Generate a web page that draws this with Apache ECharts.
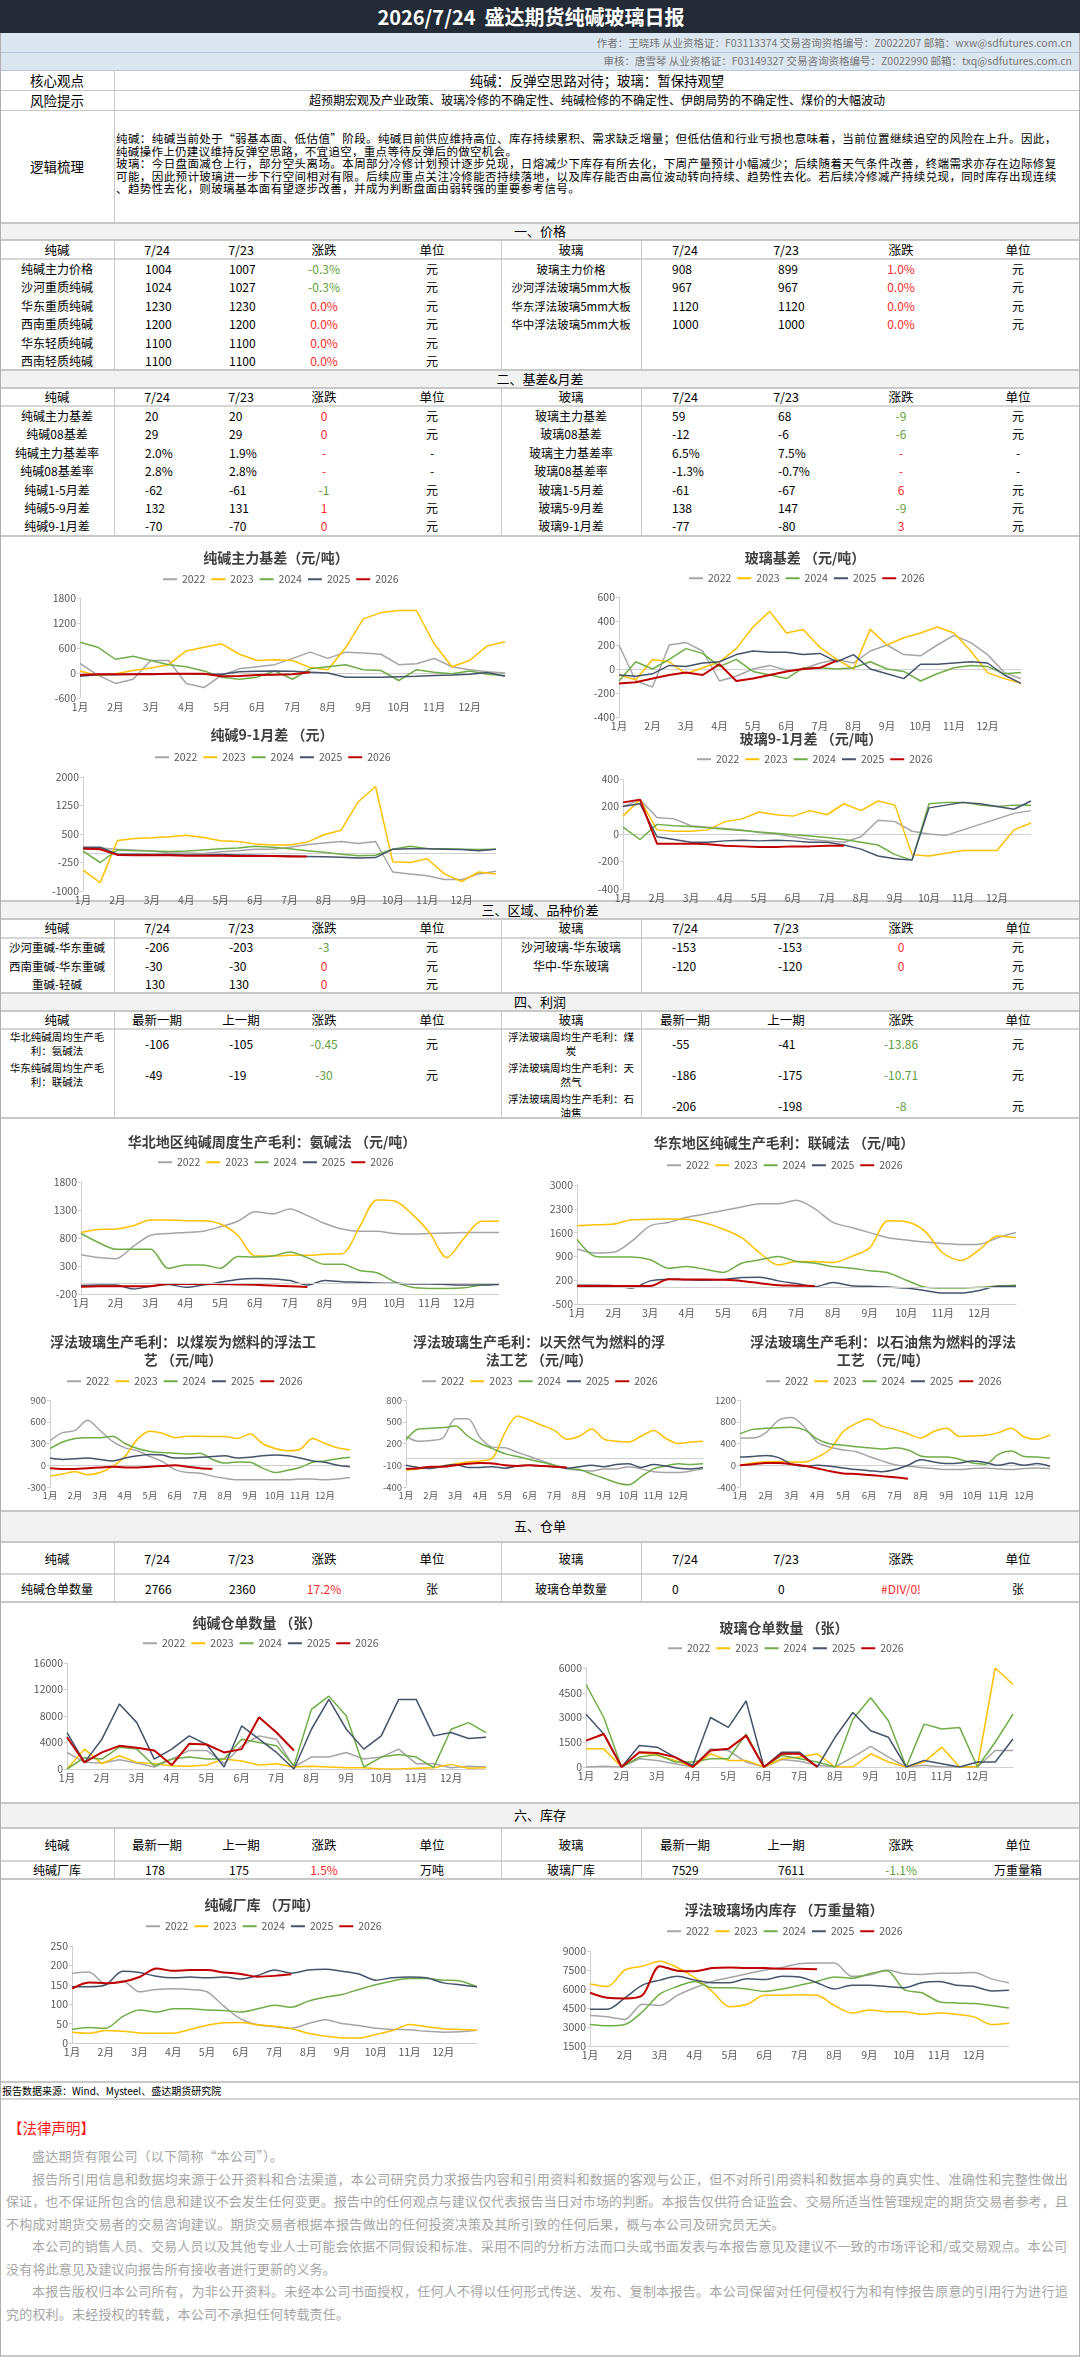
<!DOCTYPE html>
<html>
<head>
<meta charset="utf-8">
<script src="https://cdn.jsdelivr.net/npm/echarts@6/dist/echarts.min.js"></script>
<style>
body { margin: 0; background: #fff; font-family: "Noto Sans CJK SC", sans-serif; }
#page { position: relative; width: 1080px; height: 2374px; overflow: hidden; background: #fff; }
#chart { position: absolute; left: 0; top: 0; width: 1080px; height: 2374px; z-index: 5; }
</style>
</head>
<body>
<div id="page"><div id="chart"></div></div>
<script>
// 表格数据
var headL = ['纯碱', '7/24', '7/23', '涨跌', '单位'];
var headR = ['玻璃', '7/24', '7/23', '涨跌', '单位'];
var headL2 = ['纯碱', '最新一期', '上一期', '涨跌', '单位'];
var headR2 = ['玻璃', '最新一期', '上一期', '涨跌', '单位'];

var priceRowsL = [
  ['纯碱主力价格', '1004', '1007', '-0.3%', '元'],
  ['沙河重质纯碱', '1024', '1027', '-0.3%', '元'],
  ['华东重质纯碱', '1230', '1230', '0.0%', '元'],
  ['西南重质纯碱', '1200', '1200', '0.0%', '元'],
  ['华东轻质纯碱', '1100', '1100', '0.0%', '元'],
  ['西南轻质纯碱', '1100', '1100', '0.0%', '元']
];
var priceRowsR = [
  ['玻璃主力价格', '908', '899', '1.0%', '元'],
  ['沙河浮法玻璃5mm大板', '967', '967', '0.0%', '元'],
  ['华东浮法玻璃5mm大板', '1120', '1120', '0.0%', '元'],
  ['华中浮法玻璃5mm大板', '1000', '1000', '0.0%', '元']
];
var basisRowsL = [
  ['纯碱主力基差', '20', '20', '0', '元'],
  ['纯碱08基差', '29', '29', '0', '元'],
  ['纯碱主力基差率', '2.0%', '1.9%', '-', '-'],
  ['纯碱08基差率', '2.8%', '2.8%', '-', '-'],
  ['纯碱1-5月差', '-62', '-61', '-1', '元'],
  ['纯碱5-9月差', '132', '131', '1', '元'],
  ['纯碱9-1月差', '-70', '-70', '0', '元']
];
var basisRowsR = [
  ['玻璃主力基差', '59', '68', '-9', '元'],
  ['玻璃08基差', '-12', '-6', '-6', '元'],
  ['玻璃主力基差率', '6.5%', '7.5%', '-', '-'],
  ['玻璃08基差率', '-1.3%', '-0.7%', '-', '-'],
  ['玻璃1-5月差', '-61', '-67', '6', '元'],
  ['玻璃5-9月差', '138', '147', '-9', '元'],
  ['玻璃9-1月差', '-77', '-80', '3', '元']
];
var spreadRowsL = [
  ['沙河重碱-华东重碱', '-206', '-203', '-3', '元'],
  ['西南重碱-华东重碱', '-30', '-30', '0', '元'],
  ['重碱-轻碱', '130', '130', '0', '元']
];
var spreadRowsR = [
  ['沙河玻璃-华东玻璃', '-153', '-153', '0', '元'],
  ['华中-华东玻璃', '-120', '-120', '0', '元'],
  ['', '', '', '', '元']
];
var profitRowsL = [
  ['华北纯碱周均生产毛利：氨碱法', '-106', '-105', '-0.45', '元'],
  ['华东纯碱周均生产毛利：联碱法', '-49', '-19', '-30', '元']
];
var profitRowsR = [
  ['浮法玻璃周均生产毛利：煤炭', '-55', '-41', '-13.86', '元'],
  ['浮法玻璃周均生产毛利：天然气', '-186', '-175', '-10.71', '元'],
  ['浮法玻璃周均生产毛利：石油焦', '-206', '-198', '-8', '元']
];
var whRowsL = [['纯碱仓单数量', '2766', '2360', '17.2%', '张']];
var whRowsR = [['玻璃仓单数量', '0', '0', '#DIV/0!', '张']];
var invRowsL = [['纯碱厂库', '178', '175', '1.5%', '万吨']];
var invRowsR = [['玻璃厂库', '7529', '7611', '-1.1%', '万重量箱']];

// 图表数据（半月取点）
var months = ['1月','','2月','','3月','','4月','','5月','','6月','','7月','','8月','','9月','','10月','','11月','','12月','',''];
var years = ['2022', '2023', '2024', '2025', '2026'];
var yearColors = ['#a5a5a5', '#ffc000', '#70ad47', '#44546a', '#c00000'];

var sodaBasis22 = [230,-50,-250,-150,300,300,-250,-350,-50,100,150,200,350,500,350,500,480,450,200,220,350,150,80,30,0];
var sodaBasis23 = [50,-60,-20,60,120,200,530,620,700,450,300,320,300,130,80,610,1300,1450,1500,1500,700,150,300,650,750];
var sodaBasis24 = [740,620,330,400,300,200,150,50,-100,-150,-100,50,-150,100,150,200,80,60,-180,80,20,-20,50,-30,-60];
var sodaBasis25 = [-80,-40,-40,-30,-20,-20,-20,-30,-30,30,40,50,40,20,0,-100,-100,-100,-90,-80,-60,-50,-30,10,-80];
var sodaBasis26 = [-50,-30,-30,-30,-30,-20,-20,-20,-80,-70,-50,-40,-30,20];

var glassBasis22 = [200,-100,-150,200,220,150,-100,-60,0,30,-10,0,50,80,50,150,200,120,110,200,280,220,120,-30,-80];
var glassBasis23 = [-50,-90,80,60,-40,10,60,170,350,480,300,330,180,80,0,330,200,260,300,350,300,150,-30,-80,-120];
var glassBasis24 = [-100,60,0,80,170,130,20,80,-20,-50,-80,10,10,0,10,60,0,-20,-100,-40,10,30,20,-40,-30];
var glassBasis25 = [-50,-60,-40,30,20,50,60,120,150,140,140,120,130,60,120,0,-40,-80,40,40,50,60,50,-50,-120];
var glassBasis26 = [-120,-110,-80,-50,-30,-50,40,-100,-80,-50,-20,0,10,70];

var sodaSpread22 = [100,130,100,80,50,0,0,-10,30,60,100,100,150,220,260,300,250,300,-500,-550,-600,-700,-700,-550,-480];
var sodaSpread23 = [-450,-780,330,380,400,430,470,410,320,300,240,210,210,280,480,600,1350,1750,-230,-250,-150,-550,-750,-500,-550];
var sodaSpread24 = [50,-250,80,60,50,40,50,80,110,130,180,150,110,60,20,-30,-70,-60,100,180,120,110,100,90,100];
var sodaSpread25 = [150,150,-30,-30,-40,-40,-50,-50,-40,-50,-60,-70,-80,-90,-100,-110,-130,-120,100,110,110,100,90,60,100];
var sodaSpread26 = [120,100,-50,-60,-60,-60,-70,-70,-70,-80,-80,-80,-90,-90];

var glassSpread22 = [200,250,120,110,60,50,40,30,10,0,-20,-40,-50,-60,-20,100,90,20,0,-10,30,70,110,150,170];
var glassSpread23 = [130,250,30,20,20,30,90,110,160,140,130,170,140,220,170,240,210,-150,-160,-140,-120,-120,-120,30,80];
var glassSpread24 = [50,-40,70,60,55,45,35,25,15,5,-5,-15,-25,-40,-60,-80,-150,-190,220,230,230,210,200,210,210];
var glassSpread25 = [200,220,-20,-40,-60,-60,-50,-45,-50,-45,-50,-60,-60,-80,-110,-160,-180,-190,190,210,230,220,200,180,240];
var glassSpread26 = [230,250,-70,-70,-70,-75,-85,-90,-95,-95,-90,-90,-85,-85];

var profitNorth22 = [500,450,430,650,850,880,900,920,1000,1100,1270,1230,1320,1200,1060,960,920,920,880,870,880,890,900,900,900];
var profitNorth23 = [900,950,960,1020,1120,1120,1110,1110,1050,850,480,480,490,490,510,520,1000,1480,1460,1230,900,450,800,1100,1100];
var profitNorth24 = [880,720,600,600,600,260,320,320,260,470,460,480,550,450,330,330,220,180,20,-80,-100,-100,-90,-40,-20];
var profitNorth25 = [-50,-40,-40,-110,-60,-30,-80,-40,10,60,75,70,40,-40,40,20,10,-5,-10,-20,-20,-30,-40,-40,-30];
var profitNorth26 = [-70,-60,-60,-60,-60,-20,-20,-20,-25,-30,-35,-50,-60,-75];

var profitEast22 = [1120,1000,1020,1350,1800,1900,2050,2150,2250,2350,2450,2450,2550,2300,1900,1750,1600,1450,1380,1320,1280,1250,1260,1450,1600];
var profitEast23 = [1800,1830,1850,1980,1990,2000,1990,1880,1700,1450,1000,650,750,750,720,900,1150,1950,1920,1650,1000,780,1100,1500,1450];
var profitEast24 = [1400,900,880,880,800,550,600,520,430,700,800,900,750,700,600,550,480,420,200,0,-30,-30,-10,30,50];
var profitEast25 = [50,50,40,-30,180,230,210,200,220,280,290,180,100,10,130,40,20,0,-30,-100,-180,-180,-100,20,20];
var profitEast26 = [30,30,30,30,30,230,220,220,210,180,110,50,40,30];

var glassCoal22 = [340,450,480,620,480,330,240,200,120,50,-60,-100,-110,-150,-180,-200,-200,-200,-200,-200,-190,-190,-200,-190,-170];
var glassCoal23 = [-150,-120,-90,-130,-100,-20,120,360,470,440,380,400,400,395,395,370,430,300,230,200,220,370,300,240,210];
var glassCoal24 = [230,320,370,380,380,400,300,230,190,175,165,155,165,80,30,45,40,-40,-100,-70,-30,40,60,90,110];
var glassCoal25 = [100,80,90,100,80,60,100,130,150,140,100,100,110,120,130,100,110,130,140,130,100,60,40,0,-20];
var glassCoal26 = [-40,-50,-50,-40,-30,-20,-30,-30,-20,-10,0,-20,-40,-50];

var glassGas22 = [300,230,240,280,540,540,280,150,140,80,20,-40,-100,-150,-170,-180,-150,-150,-120,-150,-190,-200,-200,-180,-150];
var glassGas23 = [-170,-150,-130,-110,-80,-55,-40,0,350,580,520,450,380,260,300,400,260,230,220,300,380,270,200,220,230];
var glassGas24 = [250,400,410,420,440,300,200,130,60,20,-20,-60,-100,-140,-160,-220,-280,-340,-370,-260,-150,-110,-80,-90,-80];
var glassGas25 = [-100,-130,-145,-110,-90,-130,-130,-120,-140,-110,-100,-110,-120,-140,-120,-100,-120,-90,-80,-130,-90,-110,-140,-150,-130];
var glassGas26 = [-150,-140,-120,-120,-100,-80,-70,-75,-100,-110,-100,-110,-120,-130];

var glassCoke22 = [500,500,600,830,880,700,420,330,280,250,160,80,10,-20,-40,-60,-80,-80,-60,-50,-70,-80,-60,-50,-60];
var glassCoke23 = [0,40,65,70,60,60,150,300,620,770,850,720,660,580,500,620,680,530,540,550,600,680,520,480,560];
var glassCoke24 = [580,660,680,690,700,650,480,390,370,340,320,300,320,280,170,150,150,110,40,20,200,260,160,150,130];
var glassCoke25 = [150,160,180,140,20,-20,0,-20,-50,-80,-100,-120,-80,0,100,60,30,40,80,50,0,40,0,30,-20];
var glassCoke26 = [0,20,40,40,20,-10,-60,-110,-150,-160,-180,-200,-220,-250];

var sodaWr22 = [2500,1000,900,1400,900,300,1500,2800,2800,800,3500,5000,4500,300,1800,1800,2500,1500,1800,3000,800,800,200,400,300];
var sodaWr23 = [0,3000,800,2000,1000,800,500,400,600,1500,1200,600,800,300,400,300,200,200,0,0,100,200,700,100,200];
var sodaWr24 = [0,1700,1500,3300,3000,500,1500,1800,1500,1500,4500,4000,3500,500,9000,11000,8000,300,1800,2200,1800,200,6000,7000,5500];
var sodaWr25 = [5500,1000,4500,9800,7000,1500,3000,5000,3700,300,6500,4500,2500,0,6000,10500,6000,3000,5000,10500,10500,5000,5500,4600,4800];
var sodaWr26 = [4800,1000,2500,3500,3200,2800,600,3800,3700,2500,3000,7800,5500,2800];

var glassWr22 = [0,50,0,500,400,200,0,1100,1000,300,0,450,350,100,0,600,1250,600,0,100,0,0,0,1000,1000];
var glassWr23 = [1100,1100,0,900,700,400,0,800,400,400,0,500,600,800,0,0,800,300,0,300,1200,0,0,6000,5000];
var glassWr24 = [5000,3000,0,600,750,300,300,500,500,2000,0,700,500,300,0,2900,4200,2800,0,2600,2300,2400,0,1500,3200];
var glassWr25 = [3200,2000,0,1300,1200,600,100,3000,2400,4000,0,900,900,0,1800,3300,2200,1800,0,400,200,0,300,300,1700];
var glassWr26 = [1600,2000,0,900,850,600,0,1000,1100,1900,0,800,800,0];

var sodaInv22 = [180,183,152,160,132,138,140,138,132,95,62,47,42,38,50,60,50,45,38,35,34,30,28,29,33];
var sodaInv23 = [28,25,32,30,26,25,25,35,46,52,53,47,43,37,25,18,13,13,22,32,48,42,37,35,33];
var sodaInv24 = [35,40,38,68,85,80,88,88,85,84,80,88,97,92,108,118,125,138,150,160,166,166,162,160,145];
var sodaInv25 = [145,145,150,185,182,172,168,170,168,170,165,174,188,180,188,190,185,178,162,168,170,168,155,150,145];
var sodaInv26 = [140,156,154,158,170,192,186,188,188,182,178,171,173,177];

var glassInv22 = [3900,3800,3600,4800,4700,5500,6100,6600,6900,7200,7500,7700,8000,8050,8050,7000,7100,7500,7200,7150,7250,7250,7300,6800,6500];
var glassInv23 = [6400,6200,7500,7800,8200,7700,6900,5800,4600,4800,5500,5500,5550,5500,4700,4100,4350,4200,4200,4000,4100,4000,3800,3200,3300];
var glassInv24 = [3200,3100,3200,4200,5600,6200,6600,6100,6100,6000,5800,6000,6300,6600,6950,6850,7200,7450,5950,5700,5000,4900,4850,4700,4500];
var glassInv25 = [4400,4400,5300,6300,6700,7000,6700,6500,6500,6800,6750,7000,6950,6500,6000,6300,6300,6200,6100,6500,6600,6300,6200,5850,5900];
var glassInv26 = [5700,5300,5250,5500,7800,7450,7400,7650,7700,7650,7650,7600,7600,7550];

var page = document.getElementById('page');

function put(x, y, w, h, css, html) {
  var d = document.createElement('div');
  d.style.cssText = 'position:absolute;left:' + x + 'px;top:' + y + 'px;' + (w != null ? 'width:' + w + 'px;' : '') + 'height:' + h + 'px;' + (css || '');
  if (html != null) d.innerHTML = html;
  page.appendChild(d);
  return d;
}
function hline(y, x1, x2, t, c) { put(x1, y, x2 - x1, t || 1, 'background:' + (c || '#c8c8c8')); }
function vline(x, y1, y2, t, c) { put(x, y1, t || 1, y2 - y1, 'background:' + (c || '#c8c8c8')); }
function cell(x, cy, w, txt, align, color, size) {
  put(x, cy - 10, w, 20, 'line-height:20px;white-space:nowrap;text-align:' + align + ';color:' + (color || '#000') + ';font-size:' + (size || 12) + 'px;', txt);
}
function chgColor(t) { return /^-\d/.test(t) ? '#5f9e3c' : '#ff2b2b'; }

var centersL = [57, 157, 241, 324, 432];
var centersR = [571, 685, 786, 901, 1018];
var leftsL = [145, 229];
var leftsR = [672, 778];

function section(y1, y2, title) {
  put(0, y1, 1080, y2 - y1, 'background:#f2f2f2');
  hline(y1, 0, 1080, 2, '#c8c8c8');
  hline(y2 - 1, 0, 1080, 2, '#c8c8c8');
  cell(0, (y1 + y2) / 2, 1080, title, 'center', '#000', 13);
}
function header(cy, hl, hr, yBottom) {
  for (var i = 0; i < 5; i++) {
    cell(centersL[i] - 60, cy, 120, hl[i], 'center', '#000', 12.5);
    cell(centersR[i] - 60, cy, 120, hr[i], 'center', '#000', 12.5);
  }
  hline(yBottom, 0, 1080, 2, '#d6d6d6');
}
function rows(list, side, cy0, step, labelSize, twoLine) {
  var c = side == 'L' ? centersL : centersR;
  var l = side == 'L' ? leftsL : leftsR;
  var lw = side == 'L' ? 108 : 132;
  list.forEach(function (r, i) {
    var cy = cy0 + step * i;
    if (twoLine) {
      put(c[0] - lw / 2, cy - 15, lw, 30, 'font-size:' + labelSize + 'px;line-height:14px;display:flex;align-items:center;justify-content:center;text-align:center;', r[0]);
    } else {
      cell(c[0] - 70, cy, 140, r[0], 'center', '#000', labelSize || 12);
    }
    cell(l[0], cy, 90, r[1], 'left');
    cell(l[1], cy, 90, r[2], 'left');
    cell(c[3] - 50, cy, 100, r[3], 'center', chgColor(r[3]));
    cell(c[4] - 50, cy, 100, r[4], 'center');
  });
}
function dividers(y1, y2) {
  vline(114, y1, y2);
  vline(501, y1, y2);
  vline(641, y1, y2);
}
// 按行排版：full 行把每个字放进弹性盒，两端对齐撑满整行
function textLines(x, y, w, lh, size, color, lines) {
  lines.forEach(function (ln, i) {
    var ind = ln.indent ? size * 2 : 0;
    var css = 'font-size:' + size + 'px;line-height:' + lh + 'px;color:' + color + ';white-space:nowrap;';
    if (ln.full) {
      var spans = Array.from(ln.t).map(function (ch) { return '<span>' + ch + '</span>'; }).join('');
      put(x + ind, y + lh * i, w - ind, lh, css + 'display:flex;justify-content:space-between;', spans);
    } else {
      put(x + ind, y + lh * i, null, lh, css + 'letter-spacing:' + (ln.ls || 0) + 'px;', ln.t);
    }
  });
}

// 顶部
put(0, 0, 1080, 33, 'background:#222b36');
put(0, 0, 1062, 33, 'color:#fff;font-size:20px;font-weight:bold;line-height:33px;text-align:center;white-space:pre;', '2026/7/24  盛达期货纯碱玻璃日报');
put(0, 33, 1080, 37, 'background:#dce6f1');
put(0, 33, 1072, 19, 'font-size:10.5px;color:#767676;text-align:right;line-height:19px;white-space:nowrap;', '作者：王晓玮 从业资格证：F03113374 交易咨询资格编号：Z0022207 邮箱：wxw@sdfutures.com.cn');
put(0, 52, 1072, 18, 'font-size:10.5px;color:#767676;text-align:right;line-height:18px;white-space:nowrap;', '审核：唐雪琴 从业资格证：F03149327 交易咨询资格编号：Z0022990 邮箱：txq@sdfutures.com.cn');
hline(52, 0, 1080, 1, '#b8c7da');
hline(70, 0, 1080, 1, '#b8c7da');
hline(90, 0, 1080);
hline(110, 0, 1080);
vline(114, 70, 222);
cell(0, 80, 114, '核心观点', 'center', '#000', 13.5);
cell(0, 100, 114, '风险提示', 'center', '#000', 13.5);
cell(0, 166, 114, '逻辑梳理', 'center', '#000', 13.5);
cell(114, 80, 966, '纯碱：反弹空思路对待；玻璃：暂保持观望', 'center', '#000', 13.4);
cell(114, 100, 966, '超预期宏观及产业政策、玻璃冷修的不确定性、纯碱检修的不确定性、伊朗局势的不确定性、煤价的大幅波动', 'center', '#000', 12);
textLines(116, 132, 941, 12.6, 11.5, '#000', [
  { full: true, t: '纯碱：纯碱当前处于“弱基本面、低估值”阶段。纯碱目前供应维持高位、库存持续累积、需求缺乏增量；但低估值和行业亏损也意味着，当前位置继续追空的风险在上升。因此，' },
  { ls: 0.3, t: '纯碱操作上仍建议维持反弹空思路，不宜追空，重点等待反弹后的做空机会。' },
  { full: true, t: '玻璃：今日盘面减仓上行，部分空头离场。本周部分冷修计划预计逐步兑现，日熔减少下库存有所去化，下周产量预计小幅减少；后续随着天气条件改善，终端需求亦存在边际修复' },
  { full: true, t: '可能，因此预计玻璃进一步下行空间相对有限。后续应重点关注冷修能否持续落地，以及库存能否由高位波动转向持续、趋势性去化。若后续冷修减产持续兑现，同时库存出现连续' },
  { ls: 0.4, t: '、趋势性去化，则玻璃基本面有望逐步改善，并成为判断盘面由弱转强的重要参考信号。' }
]);

// 一、价格
section(222, 240, '一、价格');
header(250, headL, headR, 258);
rows(priceRowsL, 'L', 269, 18.4);
rows(priceRowsR, 'R', 269, 18.4, 11.5);
dividers(240, 369);

// 二、基差&月差
section(369, 388, '二、基差&月差');
header(397, headL, headR, 405);
rows(basisRowsL, 'L', 416, 18.4);
rows(basisRowsR, 'R', 416, 18.4);
dividers(388, 535);
hline(535, 0, 1080, 2, '#c8c8c8');

// 三、区域、品种价差
section(900, 919, '三、区域、品种价差');
header(928, headL, headR, 937);
rows(spreadRowsL, 'L', 947, 18.5, 11.5);
rows(spreadRowsR, 'R', 947, 18.5);
dividers(919, 992);

// 四、利润
section(992, 1011, '四、利润');
header(1020, headL2, headR2, 1028);
rows(profitRowsL, 'L', 1044, 31, 10.5, true);
rows(profitRowsR, 'R', 1044, 31, 10.5, true);
dividers(1011, 1118);
hline(1117, 0, 1080, 2, '#c8c8c8');

// 五、仓单
section(1510, 1542, '五、仓单');
header(1559, headL, headR, 1573);
rows(whRowsL, 'L', 1589, 0);
rows(whRowsR, 'R', 1589, 0);
dividers(1542, 1602);
hline(1601, 0, 1080, 2, '#c8c8c8');

// 六、库存
section(1802, 1828, '六、库存');
header(1845, headL2, headR2, 1860);
rows(invRowsL, 'L', 1870, 0);
rows(invRowsR, 'R', 1870, 0);
dividers(1828, 1879);
hline(1878, 0, 1080, 2, '#c8c8c8');

// 底部
hline(2081, 0, 1080, 2, '#c8c8c8');
put(2, 2082, 600, 17, 'font-size:10px;line-height:17px;color:#000;white-space:nowrap;', '报告数据来源：Wind、Mysteel、盛达期货研究院');
hline(2098, 0, 1080, 2, '#d6d6d6');
put(8, 2117, 300, 22, 'font-size:14.5px;line-height:22px;color:#ff1a1a;', '【法律声明】');
textLines(6, 2145, 1062, 22.5, 13, '#a6a6a6', [
  { indent: true, ls: 0.2, t: '盛达期货有限公司（以下简称“本公司”）。' },
  { indent: true, full: true, t: '报告所引用信息和数据均来源于公开资料和合法渠道，本公司研究员力求报告内容和引用资料和数据的客观与公正，但不对所引用资料和数据本身的真实性、准确性和完整性做出' },
  { full: true, t: '保证，也不保证所包含的信息和建议不会发生任何变更。报告中的任何观点与建议仅代表报告当日对市场的判断。本报告仅供符合证监会、交易所适当性管理规定的期货交易者参考，且' },
  { ls: 0.2, t: '不构成对期货交易者的交易咨询建议。期货交易者根据本报告做出的任何投资决策及其所引致的任何后果，概与本公司及研究员无关。' },
  { indent: true, full: true, t: '本公司的销售人员、交易人员以及其他专业人士可能会依据不同假设和标准、采用不同的分析方法而口头或书面发表与本报告意见及建议不一致的市场评论和/或交易观点。本公司' },
  { ls: 0.2, t: '没有将此意见及建议向报告所有接收者进行更新的义务。' },
  { indent: true, full: true, t: '本报告版权归本公司所有，为非公开资料。未经本公司书面授权，任何人不得以任何形式传送、发布、复制本报告。本公司保留对任何侵权行为和有悖报告原意的引用行为进行追' },
  { ls: 0.2, t: '究的权利。未经授权的转载，本公司不承担任何转载责任。' }
]);
hline(2355, 0, 1080, 2, '#c8c8c8');
vline(0, 33, 2356, 1, '#b0b0b0');
vline(1079, 33, 2356, 1, '#b0b0b0');

// 图表布局
var chartDefs = [
  { t: '纯碱主力基差（元/吨）', tx: 276, ty: 558, lx: 280, ly: 581, g: [80, 598, 425, 100], y: [-600, 1800, 600], zero: true,
    d: [sodaBasis22, sodaBasis23, sodaBasis24, sodaBasis25, sodaBasis26] },
  { t: '玻璃基差 （元/吨）', tx: 805, ty: 558, lx: 806, ly: 580, g: [619, 597, 402, 120], y: [-400, 600, 200], zero: true,
    d: [glassBasis22, glassBasis23, glassBasis24, glassBasis25, glassBasis26] },
  { t: '纯碱9-1月差 （元）', tx: 272, ty: 735, lx: 272, ly: 759, g: [83, 777, 413, 114], y: [-1000, 2000, 750], zero: true,
    d: [sodaSpread22, sodaSpread23, sodaSpread24, sodaSpread25, sodaSpread26] },
  { t: '玻璃9-1月差 （元/吨）', tx: 811, ty: 739, lx: 814, ly: 761, g: [623, 779, 408, 110], y: [-400, 400, 200], zero: true,
    d: [glassSpread22, glassSpread23, glassSpread24, glassSpread25, glassSpread26] },
  { t: '华北地区纯碱周度生产毛利：氨碱法 （元/吨）', tx: 272, ty: 1142, lx: 275, ly: 1164, g: [81, 1182, 418, 112], y: [-200, 1800, 500], zero: false, zl: true, smooth: true,
    d: [profitNorth22, profitNorth23, profitNorth24, profitNorth25, profitNorth26] },
  { t: '华东地区纯碱生产毛利：联碱法 （元/吨）', tx: 784, ty: 1143, lx: 784, ly: 1167, g: [577, 1185, 439, 119], y: [-500, 3000, 700], zero: false, zl: true, smooth: true,
    d: [profitEast22, profitEast23, profitEast24, profitEast25, profitEast26] },
  { t: '浮法玻璃生产毛利：以煤炭为燃料的浮法工\n艺 （元/吨）', tx: 183, ty: 1351, lx: 184, ly: 1383, g: [50, 1400, 300, 87], y: [-300, 900, 300], zero: true, smooth: true, fs: 9.5,
    d: [glassCoal22, glassCoal23, glassCoal24, glassCoal25, glassCoal26] },
  { t: '浮法玻璃生产毛利：以天然气为燃料的浮\n法工艺 （元/吨）', tx: 539, ty: 1351, lx: 539, ly: 1383, g: [406, 1400, 297, 87], y: [-400, 800, 300], zero: true, smooth: true, fs: 9.5,
    d: [glassGas22, glassGas23, glassGas24, glassGas25, glassGas26] },
  { t: '浮法玻璃生产毛利：以石油焦为燃料的浮法\n工艺 （元/吨）', tx: 883, ty: 1351, lx: 883, ly: 1383, g: [740, 1400, 310, 87], y: [-400, 1200, 400], zero: true, smooth: true, fs: 9.5,
    d: [glassCoke22, glassCoke23, glassCoke24, glassCoke25, glassCoke26] },
  { t: '纯碱仓单数量 （张）', tx: 257, ty: 1623, lx: 260, ly: 1645, g: [67, 1663, 419, 106], y: [0, 16000, 4000], zero: false,
    d: [sodaWr22, sodaWr23, sodaWr24, sodaWr25, sodaWr26] },
  { t: '玻璃仓单数量 （张）', tx: 784, ty: 1628, lx: 785, ly: 1650, g: [586, 1668, 427, 99], y: [0, 6000, 1500], zero: false,
    d: [glassWr22, glassWr23, glassWr24, glassWr25, glassWr26] },
  { t: '纯碱厂库 （万吨）', tx: 262, ty: 1905, lx: 263, ly: 1928, g: [72, 1946, 405, 97], y: [0, 250, 50], zero: false, smooth: true,
    d: [sodaInv22, sodaInv23, sodaInv24, sodaInv25, sodaInv26] },
  { t: '浮法玻璃场内库存 （万重量箱）', tx: 784, ty: 1910, lx: 784, ly: 1933, g: [590, 1951, 419, 95], y: [1500, 9000, 1500], zero: false, smooth: true,
    d: [glassInv22, glassInv23, glassInv24, glassInv25, glassInv26] }
];

var option = {
  animation: false,
  textStyle: { fontFamily: 'Noto Sans CJK SC' },
  title: [], legend: [], grid: [], xAxis: [], yAxis: [], series: []
};

chartDefs.forEach(function (c, i) {
  var twoLine = c.t.indexOf('\n') >= 0;
  var fs = c.fs || 10.5;
  option.title.push({
    text: c.t, left: c.tx, top: c.ty - (twoLine ? 18 : 9), textAlign: 'center', padding: 0,
    textStyle: { fontSize: 14, fontWeight: 'bold', color: '#404040', lineHeight: 18 }
  });
  option.legend.push({
    data: years, left: c.lx - 117, top: c.ly - 7, padding: 0, icon: 'rect',
    itemWidth: 14, itemHeight: 2, itemGap: 6, selectedMode: false,
    textStyle: { fontSize: 10.5, color: '#595959' }
  });
  option.grid.push({ left: c.g[0], top: c.g[1], width: c.g[2], height: c.g[3] });
  option.xAxis.push({
    type: 'category', gridIndex: i, data: months, boundaryGap: false,
    axisLine: { onZero: c.zero, lineStyle: { color: '#d0d0d0' } },
    axisTick: { show: false },
    axisLabel: { interval: 0, fontSize: fs, color: '#595959', margin: 4 },
    splitLine: { show: false }
  });
  option.yAxis.push({
    type: 'value', gridIndex: i, min: c.y[0], max: c.y[1], interval: c.y[2],
    axisLine: { show: true, lineStyle: { color: '#d0d0d0' } },
    axisTick: { show: true, length: 3 },
    splitLine: { show: false },
    axisLabel: { fontSize: fs, color: '#595959', margin: 4, formatter: function (v) { return String(v); } }
  });
  years.forEach(function (yr, k) {
    var s = {
      name: yr, type: 'line', xAxisIndex: i, yAxisIndex: i, data: c.d[k],
      symbol: 'none', smooth: c.smooth ? 0.3 : false,
      lineStyle: { width: k == 4 ? 2 : 1.5, color: yearColors[k] },
      itemStyle: { color: yearColors[k] }
    };
    if (c.zl && k == 0) {
      s.markLine = {
        silent: true, symbol: 'none', label: { show: false },
        lineStyle: { color: '#d0d0d0', type: 'solid', width: 1 },
        data: [{ yAxis: 0 }]
      };
    }
    option.series.push(s);
  });
});

var myChart = echarts.init(document.getElementById('chart'));
myChart.setOption(option);
</script>
</body>
</html>
